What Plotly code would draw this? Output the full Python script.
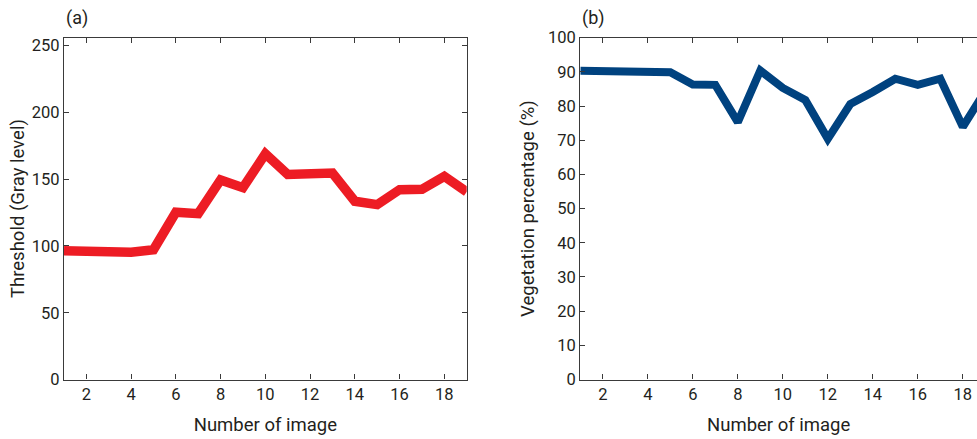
import plotly.graph_objects as go
from plotly.subplots import make_subplots

image_no = list(range(1, 20))
threshold = [96.5, 96.2, 95.8, 95.4, 97.2, 125.3, 124.2, 149.5, 143.7, 169.0,
             153.5, 154.0, 154.6, 133.5, 131.0, 142.2, 142.5, 152.2, 140.5]
vegetation = [90.3, 90.2, 90.1, 90.0, 89.9, 86.3, 86.2, 75.3, 90.4, 85.3,
              81.8, 70.4, 80.6, 84.1, 88.0, 86.2, 88.0, 73.9, 84.4]

x_ticks = [2, 4, 6, 8, 10, 12, 14, 16, 18]
y_ticks_a = [0, 50, 100, 150, 200, 250]
y_ticks_b = [0, 10, 20, 30, 40, 50, 60, 70, 80, 90, 100]

FONT = "Roboto, Arial, sans-serif"
TXT = "#231f20"
AX = "#3a3a3a"

fig = make_subplots(rows=1, cols=2)
fig.add_trace(go.Scatter(x=image_no, y=threshold, mode="lines",
                         line=dict(color="#ed1c24", width=9.5)), row=1, col=1)
fig.add_trace(go.Scatter(x=image_no, y=vegetation, mode="lines",
                         line=dict(color="#00427f", width=8)), row=1, col=2)

axis_common = dict(showline=True, linecolor=AX, linewidth=1.2, ticks="inside",
                   ticklen=5, tickwidth=1.2, tickcolor=AX, showgrid=False,
                   zeroline=False, automargin=False,
                   tickfont=dict(family=FONT, size=16.5, color=TXT))

y_top = (439 - 37.7) / 439
y_bot = (439 - 379.5) / 439
TF = dict(family=FONT, size=18.5, color=TXT)

fig.update_xaxes(**axis_common, range=[1, 19], tickvals=x_ticks, mirror="ticks",
                 domain=[64 / 977, 466.7 / 977],
                 title=dict(text="Number of image", font=TF, standoff=14),
                 row=1, col=1)
fig.update_yaxes(**axis_common, range=[0, 256], tickvals=y_ticks_a, mirror="ticks",
                 domain=[y_bot, y_top],
                 title=dict(text="Threshold (Gray level)", font=TF, standoff=2),
                 row=1, col=1)
fig.update_xaxes(**axis_common, range=[1, 1 + (977 - 580.3) / 22.5], tickvals=x_ticks, mirror="ticks",
                 domain=[580.3 / 977, 1.0],
                 title=dict(text="Number of image", font=TF, standoff=14),
                 row=1, col=2)
fig.update_yaxes(**axis_common, range=[0, 100], tickvals=y_ticks_b, mirror=False,
                 domain=[y_bot, y_top],
                 title=dict(text="Vegetation percentage (%)", font=TF, standoff=8),
                 row=1, col=2)

fig.add_annotation(text="(a)", x=64 / 977, y=(439 - 18) / 439, xref="paper", yref="paper",
                   xanchor="left", yanchor="middle", showarrow=False,
                   font=dict(family=FONT, size=18, color=TXT))
fig.add_annotation(text="(b)", x=580 / 977, y=(439 - 18) / 439, xref="paper", yref="paper",
                   xanchor="left", yanchor="middle", showarrow=False,
                   font=dict(family=FONT, size=18, color=TXT))

fig.update_layout(width=977, height=439, margin=dict(l=0, r=0, t=0, b=0),
                  paper_bgcolor="white", plot_bgcolor="white", showlegend=False)

fig.write_html("out.html", config={"displayModeBar": False},
               post_script="document.body.style.margin='0';")
